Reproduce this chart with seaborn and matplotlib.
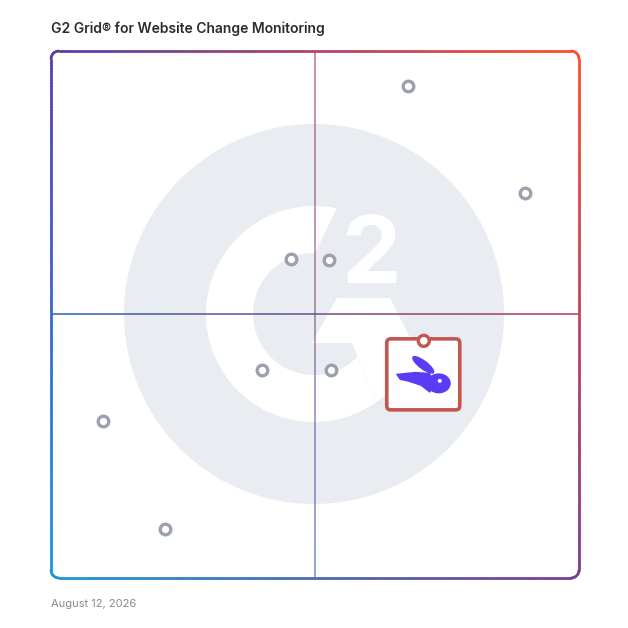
import numpy as np
import pandas as pd
import matplotlib
matplotlib.use("Agg")
import matplotlib.pyplot as plt
import seaborn as sns
from matplotlib.collections import LineCollection
from matplotlib.patches import Circle, Polygon, FancyBboxPatch, Ellipse

sns.set_theme(style="white")
plt.rcParams['font.family'] = ['Inter', 'DejaVu Sans']

# grid positions (0-100), x = satisfaction, y = market presence
satisfaction = [67.6, 89.8, 45.5, 52.7, 40.0, 53.0, 9.8, 21.6]
market_presence = [93.4, 73.1, 60.5, 60.3, 39.5, 39.5, 29.8, 9.3]
featured_x = 70.6
featured_y = 45.0

title = "G2 Grid\u00ae for Website Change Monitoring"
date_label = "August 12, 2026"

df = pd.DataFrame({'satisfaction': satisfaction, 'market_presence': market_presence})

W = 628
fig = plt.figure(figsize=(W / 100, W / 100), dpi=100)
fig.patch.set_facecolor('white')

# background layer in pixel coords (y up)
bg = fig.add_axes([0, 0, 1, 1], zorder=0)
bg.set_xlim(0, W); bg.set_ylim(0, W); bg.axis('off')

# grid box in pixels
x0, x1, y0, y1 = 51, 579, 50, 577

# corner colours of the gradient
TL = np.array([88, 62, 168]) / 255
TR = np.array([255, 78, 44]) / 255
BL = np.array([28, 152, 212]) / 255
BR = np.array([122, 60, 150]) / 255

def grad(u, v):
    top = TL * (1 - u) + TR * u
    bot = BL * (1 - u) + BR * u
    return bot * (1 - v) + top * v

# watermark logo
cx, cy = 314, 314
bg.add_patch(Circle((cx, cy), 190, fc='#e9ecf0', ec='none', zorder=1))
ro, ri = 108, 61
ta = np.radians(np.linspace(77.9, 305.1, 120))
tb = np.radians(np.linspace(315.5, 89, 120))
ring = np.vstack([np.c_[cx + ro * np.cos(ta), cy + ro * np.sin(ta)],
                  np.c_[cx + ri * np.cos(tb), cy + ri * np.sin(tb)]])
bg.add_patch(Polygon(ring, closed=True, fc='white', ec='none', zorder=2))
leg = Polygon([(337, 330), (390, 330), (466, 180), (395, 180), (352, 285), (312, 285)],
              closed=True, fc='white', ec='none', zorder=2)
bg.add_patch(leg)
leg.set_clip_path(Circle((cx, cy), ro, transform=bg.transData))
bg.text(372, 345, "2", color='white', fontsize=68, fontweight='bold',
        ha='center', va='baseline', zorder=2)

# gradient border
def rounded_rect(xa, ya, xb, yb, r):
    pts = []
    for ccx, ccy, a0, a1 in [(xb - r, ya + r, -90, 0), (xb - r, yb - r, 0, 90),
                             (xa + r, yb - r, 90, 180), (xa + r, ya + r, 180, 270)]:
        t = np.radians(np.linspace(a0, a1, 10))
        pts += list(zip(ccx + r * np.cos(t), ccy + r * np.sin(t)))
    pts.append(pts[0])
    out = []
    for p, q in zip(pts[:-1], pts[1:]):
        n = max(1, int(np.hypot(q[0] - p[0], q[1] - p[1]) / 3))
        for k in range(n):
            out.append((p[0] + (q[0] - p[0]) * k / n, p[1] + (q[1] - p[1]) * k / n))
    out.append(pts[-1])
    return np.array(out)

def grad_segments(pts):
    segs = np.stack([pts[:-1], pts[1:]], axis=1)
    mid = segs.mean(axis=1)
    cols = [grad((m[0] - x0) / (x1 - x0), (m[1] - y0) / (y1 - y0)) for m in mid]
    return segs, cols

segs, cols = grad_segments(rounded_rect(x0, y0, x1, y1, 8))
bg.add_collection(LineCollection(segs, colors=cols, linewidths=1.9, capstyle='round', zorder=4))

# centre lines
vline = np.c_[np.full(120, 315), np.linspace(y0, y1, 120)]
hline = np.c_[np.linspace(x0, x1, 120), np.full(120, 314)]
s, c = grad_segments(vline)
bg.add_collection(LineCollection(s, colors=c, linewidths=1.4, alpha=0.6, zorder=3))
s, c = grad_segments(hline)
bg.add_collection(LineCollection(s, colors=c, linewidths=1.4, alpha=0.85, zorder=3))

# data axes matching the grid box
ax = fig.add_axes([x0 / W, y0 / W, (x1 - x0) / W, (y1 - y0) / W], zorder=1)
ax.set_xlim(0, 100); ax.set_ylim(0, 100)
ax.patch.set_alpha(0)
ax.axis('off')
sns.scatterplot(data=df, x='satisfaction', y='market_presence', ax=ax, s=58,
                color='white', edgecolor='#9ba1ad', linewidth=2.4, legend=False, zorder=5)

# featured product card
fg = fig.add_axes([0, 0, 1, 1], zorder=2)
fg.set_xlim(0, W); fg.set_ylim(0, W); fg.axis('off')
px, py = ax.transData.transform((featured_x, featured_y))
red = '#c45652'
fg.add_patch(FancyBboxPatch((px - 37, py - 69), 73, 71,
                            boxstyle="round,pad=0,rounding_size=4",
                            fc='white', ec=red, lw=2.6, zorder=5))
fg.add_patch(Circle((px, py), 5.5, fc='white', ec=red, lw=2.4, zorder=6))
purple = '#5a3cf2'
fg.add_patch(Ellipse((px - 0.5, py - 24), 27, 9, angle=-37, fc=purple, ec='none', zorder=6))
fg.add_patch(Ellipse((px + 15, py - 42.5), 24, 20, fc=purple, ec='none', zorder=6))
sw = [(396, 374), (415, 372), (430, 373), (436, 385), (430, 393), (421, 386), (409, 382), (400, 380)]
fg.add_patch(Polygon([(px + a - 424, py - (b - 341)) for a, b in sw], closed=True,
                     fc=purple, ec='none', zorder=6))
fg.add_patch(Circle((px + 16, py - 40), 2, fc='white', ec='none', zorder=7))

fig.text(51 / W, 1 - 29 / W, title, fontsize=10, fontweight='semibold', color='#2b2b2b',
         ha='left', va='center')
fig.text(51 / W, 1 - 604 / W, date_label, fontsize=8, color='#8a8a8a',
         ha='left', va='center')

fig.savefig('out.png', dpi=100, facecolor='white')
